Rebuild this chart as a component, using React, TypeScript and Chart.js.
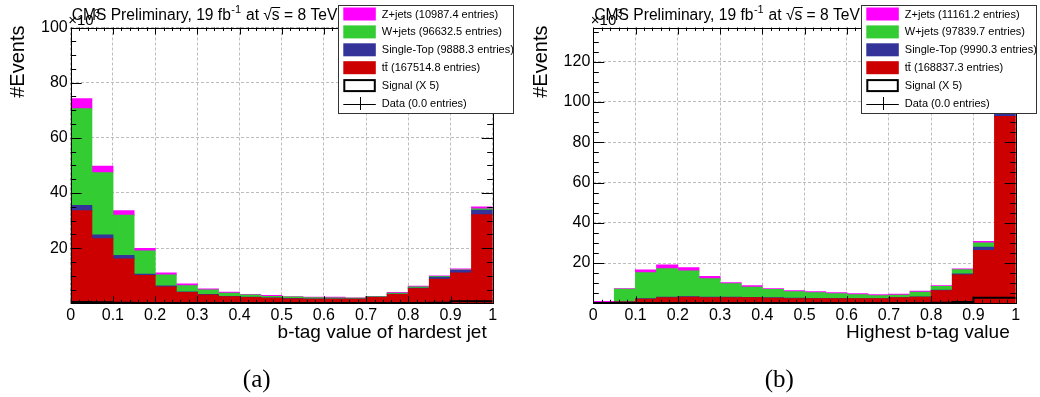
import React, { useEffect, useRef } from "react";
import { Chart, registerables } from "chart.js";

Chart.register(...registerables);

const FONT = "'Liberation Sans', Arial, Helvetica, sans-serif";
const SERIF = "'Liberation Serif', 'Times New Roman', serif";

// ---- shared binning (20 bins of width 0.05) ----
const binCenters = [0.025, 0.075, 0.125, 0.175, 0.225, 0.275, 0.325, 0.375, 0.425, 0.475, 0.525, 0.575, 0.625, 0.675, 0.725, 0.775, 0.825, 0.875, 0.925, 0.975];
const binEdges = [0, 0.05, 0.1, 0.15, 0.2, 0.25, 0.3, 0.35, 0.4, 0.45, 0.5, 0.55, 0.6, 0.65, 0.7, 0.75, 0.8, 0.85, 0.9, 0.95, 1.0];
const xTickLabels = ["0", "0.1", "0.2", "0.3", "0.4", "0.5", "0.6", "0.7", "0.8", "0.9", "1"];

// process colours: Z+jets, W+jets, Single-Top, ttbar
const colZ = "#ff00ff";
const colW = "#33cc33";
const colST = "#333399";
const colTT = "#cc0000";

// ---- (a) b-tag value of hardest jet, values in units of 10^3 events ----
const ttA = [33.6, 23.4, 16.1, 10.1, 5.9, 3.9, 3.0, 2.4, 2.1, 1.8, 1.6, 1.5, 1.5, 1.5, 2.1, 3.2, 5.3, 8.7, 11.0, 32.1];
const stA = [1.9, 1.4, 1.2, 0.4, 0.4, 0.2, 0.2, 0.1, 0.1, 0.1, 0.1, 0.1, 0.1, 0.1, 0.1, 0.1, 0.2, 0.7, 0.9, 1.6];
const wjA = [35.0, 22.5, 14.6, 8.5, 4.0, 2.3, 1.6, 1.1, 0.8, 0.6, 0.6, 0.4, 0.3, 0.2, 0.2, 0.3, 0.4, 0.3, 0.2, 0.5];
const zjA = [3.7, 2.4, 1.7, 0.9, 0.7, 0.6, 0.4, 0.4, 0.2, 0.3, 0.1, 0.2, 0.3, 0.1, 0.1, 0.3, 0.3, 0.2, 0.3, 0.7];
const sigA = [1.2, 0.5, 0.4, 0.2, 0.1, 0.1, 0.1, 0.1, 0.1, 0.1, 0.1, 0.1, 0.1, 0.1, 0.1, 0.1, 0.1, 0.1, 0.2, 0.7];
const yTickLabelsA = ["", "20", "40", "60", "80", "100"];
const legendA = ["Z+jets (10987.4 entries)", "W+jets (96632.5 entries)", "Single-Top (9888.3 entries)", "tt\u0304 (167514.8 entries)", "Signal (X 5)", "Data (0.0 entries)"];
const xTitleA = "b-tag value of hardest jet";

// ---- (b) highest b-tag value ----
const ttB = [0.2, 0.7, 2.0, 2.7, 3.0, 2.8, 2.8, 2.7, 2.5, 2.3, 2.3, 2.3, 2.2, 2.2, 2.7, 3.0, 6.2, 14.0, 26.2, 92.8];
const stB = [0.05, 0.1, 0.3, 0.3, 0.3, 0.2, 0.2, 0.2, 0.2, 0.2, 0.1, 0.1, 0.1, 0.1, 0.1, 0.1, 0.3, 0.6, 1.6, 3.0];
const wjB = [0.1, 6.2, 12.9, 14.2, 12.7, 9.2, 6.7, 5.1, 4.1, 3.2, 2.8, 2.4, 1.9, 1.5, 1.2, 2.4, 1.8, 2.1, 2.2, 1.2];
const zjB = [0.5, 0.2, 1.3, 1.8, 1.7, 1.1, 0.5, 0.7, 0.4, 0.5, 0.5, 0.4, 0.5, 0.4, 0.5, 0.5, 0.4, 0.3, 0.7, 0.5];
const sigB = [0.1, 0.1, 0.1, 0.1, 0.1, 0.1, 0.1, 0.1, 0.1, 0.1, 0.1, 0.1, 0.1, 0.1, 0.1, 0.1, 0.2, 0.3, 0.6, 2.7];
const yTickLabelsB = ["", "20", "40", "60", "80", "100", "120"];
const legendB = ["Z+jets (11161.2 entries)", "W+jets (97839.7 entries)", "Single-Top (9990.3 entries)", "tt\u0304 (168837.3 entries)", "Signal (X 5)", "Data (0.0 entries)"];
const xTitleB = "Highest b-tag value";

type Spec = {
  tt: number[]; st: number[]; wj: number[]; zj: number[]; sig: number[];
  yMax: number; yLabels: string[]; legend: string[]; xTitle: string; caption: string;
  area: { left: number; right: number; top: number; bottom: number };
};

const specA: Spec = {
  tt: ttA, st: stA, wj: wjA, zj: zjA, sig: sigA, yMax: 100, yLabels: yTickLabelsA,
  legend: legendA, xTitle: xTitleA, caption: "(a)",
  area: { left: 70.7, right: 492.7, top: 27.5, bottom: 303.3 },
};
const specB: Spec = {
  tt: ttB, st: stB, wj: wjB, zj: zjB, sig: sigB, yMax: 137, yLabels: yTickLabelsB,
  legend: legendB, xTitle: xTitleB, caption: "(b)",
  area: { left: 73.3, right: 495.7, top: 27.5, bottom: 303.3 },
};

const W = 520;
const H = 397;

const decorPlugin = {
  id: "decor",
  afterDraw(chart: any, _args: any, o: any) {
    const { ctx, chartArea: a, scales } = chart;
    const x = scales.x;
    const y = scales.y;
    ctx.save();

    // ROOT-style inward ticks
    ctx.strokeStyle = "#000";
    ctx.lineWidth = 1;
    ctx.beginPath();
    for (let v = 0; v <= o.yMax + 1e-9; v += 5) {
      const py = Math.round(y.getPixelForValue(v)) + 0.5;
      const major = Math.abs(v % 20) < 1e-6;
      const len = major ? 11 : 5.5;
      ctx.moveTo(a.left, py); ctx.lineTo(a.left + len, py);
      ctx.moveTo(a.right, py); ctx.lineTo(a.right - len, py);
    }
    for (let i = 0; i <= 50; i++) {
      const px = Math.round(x.getPixelForValue(i / 50)) + 0.5;
      const major = i % 5 === 0;
      const len = major ? 7 : 3.5;
      ctx.moveTo(px, a.top); ctx.lineTo(px, a.top + len);
      ctx.moveTo(px, a.bottom); ctx.lineTo(px, a.bottom - len);
    }
    ctx.stroke();

    // frame
    const l = Math.round(a.left) + 0.5, r = Math.round(a.right) + 0.5;
    const t = Math.round(a.top) + 0.5, b = Math.round(a.bottom) + 0.5;
    ctx.strokeRect(l, t, r - l, b - t);

    // title
    ctx.fillStyle = "#000";
    ctx.textBaseline = "alphabetic";
    ctx.textAlign = "left";
    let cx = a.left + 1;
    const by = 19.5;
    const tf = `15.6px ${FONT}`;
    ctx.font = tf;
    const t1 = "CMS Preliminary, 19 fb";
    ctx.fillText(t1, cx, by);
    cx += ctx.measureText(t1).width;
    ctx.font = `11px ${FONT}`;
    ctx.fillText("-1", cx + 0.5, by - 7);
    cx += ctx.measureText("-1").width + 1;
    ctx.font = tf;
    const t2 = " at ";
    ctx.fillText(t2, cx, by);
    cx += ctx.measureText(t2).width;
    ctx.fillText("\u221A", cx, by);
    const rw = ctx.measureText("\u221A").width;
    ctx.fillText("s", cx + rw, by);
    const sw = ctx.measureText("s").width;
    ctx.fillRect(cx + rw - 0.5, by - 12.5, sw + 1, 1);
    cx += rw + sw;
    ctx.fillText(" = 8 TeV", cx, by);

    // x10^3 exponent (overlapping, as in ROOT)
    ctx.font = `15px ${FONT}`;
    ctx.fillText("\u00D710", a.left - 2.5, 24.5);
    const ew = ctx.measureText("\u00D710").width;
    ctx.font = `10px ${FONT}`;
    ctx.fillText("3", a.left - 2.5 + ew + 0.5, 17);

    // y title
    ctx.save();
    ctx.font = `20px ${FONT}`;
    ctx.translate(a.left - 52, a.top - 2);
    ctx.rotate(-Math.PI / 2);
    ctx.textAlign = "right";
    ctx.textBaseline = "middle";
    ctx.fillText("#Events", 0, 0);
    ctx.restore();

    // x title
    ctx.font = `19px ${FONT}`;
    ctx.textAlign = "right";
    ctx.textBaseline = "alphabetic";
    ctx.fillText(o.xTitle, a.right - 6, 338.3);

    // legend box
    const lx = a.right - 154.4;
    const ly = 5;
    const lw = 175;
    const lh = 108;
    ctx.fillStyle = "#fff";
    ctx.fillRect(lx, ly, lw, lh);
    ctx.strokeStyle = "#333";
    ctx.lineWidth = 1;
    ctx.strokeRect(Math.round(lx) + 0.5, ly + 0.5, lw, lh);
    const cols = [colZ, colW, colST, colTT];
    const labels: string[] = o.legend;
    ctx.font = `11px ${FONT}`;
    ctx.textAlign = "left";
    ctx.textBaseline = "middle";
    for (let i = 0; i < labels.length; i++) {
      const cy = ly + 9 + i * 17.9;
      const sx = lx + 5;
      const swd = 32.5;
      if (i < 4) {
        ctx.fillStyle = cols[i];
        ctx.fillRect(sx, cy - 6.5, swd, 13);
      } else if (i === 4) {
        ctx.strokeStyle = "#000";
        ctx.lineWidth = 2;
        ctx.strokeRect(sx + 1, cy - 5.5, swd - 2, 11);
      } else {
        ctx.strokeStyle = "#000";
        ctx.lineWidth = 1;
        ctx.beginPath();
        ctx.moveTo(sx, Math.round(cy) + 0.5);
        ctx.lineTo(sx + swd, Math.round(cy) + 0.5);
        ctx.moveTo(Math.round(sx + swd / 2) + 0.5, cy - 6.5);
        ctx.lineTo(Math.round(sx + swd / 2) + 0.5, cy + 6.5);
        ctx.stroke();
      }
      ctx.fillStyle = "#000";
      ctx.fillText(labels[i], lx + 43.5, cy + 0.5);
    }

    // caption
    ctx.font = `25px ${SERIF}`;
    ctx.textAlign = "center";
    ctx.textBaseline = "alphabetic";
    ctx.fillText(o.caption, a.left + 186, 386.5);

    ctx.restore();
  },
};

function buildConfig(s: Spec): any {
  const pts = (vals: number[]) => vals.map((v, i) => ({ x: binCenters[i], y: v }));
  const sigPts = binEdges.map((e, i) => ({ x: e, y: s.sig[Math.min(i, s.sig.length - 1)] }));
  const barCommon = {
    type: "bar",
    stack: "mc",
    barPercentage: 1,
    categoryPercentage: 1,
    borderWidth: 0,
    inflateAmount: 0.5,
    order: 1,
  };
  return {
    type: "bar",
    data: {
      datasets: [
        { ...barCommon, label: s.legend[3], data: pts(s.tt), backgroundColor: colTT },
        { ...barCommon, label: s.legend[2], data: pts(s.st), backgroundColor: colST },
        { ...barCommon, label: s.legend[1], data: pts(s.wj), backgroundColor: colW },
        { ...barCommon, label: s.legend[0], data: pts(s.zj), backgroundColor: colZ },
        {
          type: "line",
          label: s.legend[4],
          data: sigPts,
          borderColor: "#000",
          borderWidth: 2,
          pointRadius: 0,
          stepped: "after",
          fill: false,
          stack: "signal",
          order: 0,
        },
      ],
    },
    options: {
      animation: false,
      responsive: false,
      devicePixelRatio: 1,
      layout: {
        padding: { left: 0, top: s.area.top, right: W - s.area.right, bottom: 0 },
      },
      plugins: {
        legend: { display: false },
        tooltip: { enabled: false },
        title: { display: false },
        decor: { yMax: s.yMax, legend: s.legend, xTitle: s.xTitle, caption: s.caption },
      },
      scales: {
        x: {
          type: "linear",
          min: 0,
          max: 1,
          stacked: true,
          offset: false,
          grid: { offset: false, color: "#bdbdbd", lineWidth: 1, drawTicks: false },
          border: { display: false, dash: [3, 2] },
          ticks: {
            stepSize: 0.1,
            autoSkip: false,
            maxRotation: 0,
            minRotation: 0,
            padding: 3,
            color: "#000",
            font: { family: FONT, size: 16 },
            callback: (_v: any, i: number) => xTickLabels[i] ?? "",
          },
          afterFit: (sc: any) => { sc.height = H - s.area.bottom; },
        },
        y: {
          type: "linear",
          min: 0,
          max: s.yMax,
          stacked: true,
          grid: { color: "#bdbdbd", lineWidth: 1, drawTicks: false },
          border: { display: false, dash: [3, 2] },
          ticks: {
            stepSize: 20,
            includeBounds: false,
            padding: 3,
            color: "#000",
            font: { family: FONT, size: 16 },
            callback: (_v: any, i: number) => s.yLabels[i] ?? "",
          },
          afterFit: (sc: any) => { sc.width = s.area.left; },
        },
      },
    },
    plugins: [decorPlugin],
  };
}

function Plot({ spec, left }: { spec: Spec; left: number }) {
  const ref = useRef<HTMLCanvasElement>(null);
  useEffect(() => {
    if (!ref.current) return;
    const chart = new Chart(ref.current, buildConfig(spec));
    return () => chart.destroy();
  }, [spec]);
  return (
    <canvas
      ref={ref}
      width={W}
      height={H}
      style={{ position: "absolute", left, top: 0, width: W, height: H }}
    />
  );
}

export default function App() {
  return (
    <div style={{ position: "absolute", left: 0, top: 0, width: 1040, height: 397, background: "#fff", overflow: "hidden" }}>
      <Plot spec={specA} left={0} />
      <Plot spec={specB} left={520} />
    </div>
  );
}
